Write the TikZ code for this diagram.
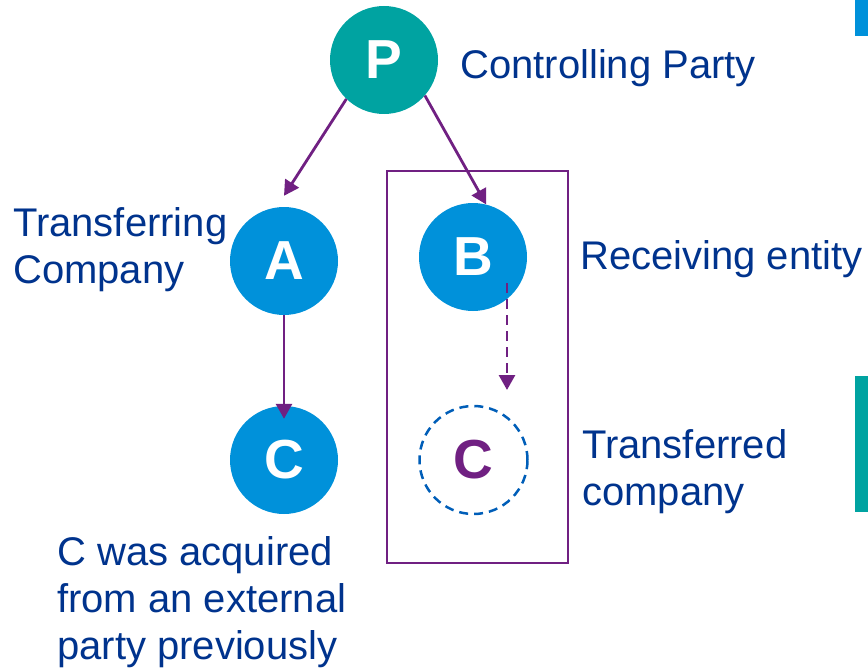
\documentclass[tikz,border=0pt]{standalone}
\usepackage{fontspec}
\setmainfont{Liberation Sans}
\usetikzlibrary{arrows.meta}
\definecolor{kteal}{HTML}{00A3A1}
\definecolor{kblue}{HTML}{0091DA}
\definecolor{kpurple}{HTML}{702082}
\definecolor{kdark}{HTML}{00338D}
\definecolor{kmid}{HTML}{005EB8}
\tikzset{
  ent/.style={circle, minimum size=108pt, inner sep=0pt, text=white,
    font=\fontsize{55}{60}\selectfont\bfseries},
  lbl/.style={text=kdark, inner sep=0pt, anchor=base west, align=left,
    font=\fontsize{40}{47}\selectfont},
  link/.style={draw=kpurple, line width=2.8pt, -{Triangle[length=15pt,width=16pt]}},
}
\begin{document}
\begin{tikzpicture}[x=1pt,y=-1pt]
\useasboundingbox (0,0) rectangle (868,669);
% side bars
\fill[kblue] (855,0) rectangle (868,36);
\fill[kteal] (855,376) rectangle (868,512);
% box
\node[draw=kpurple, line width=2.5pt, minimum width=181pt, minimum height=392pt, inner sep=0pt] (box) at (477.5,367) {};
% entities
\node[ent, fill=kteal] (P) at (384,60) {P};
\node[ent, fill=kblue] (A) at (284,261) {A};
\node[ent, fill=kblue] (B) at (473,257) {B};
\node[ent, fill=kblue] (C) at (284,460) {C};
\node[ent, draw=kmid, line width=2.5pt, dash pattern=on 9pt off 6pt, text=kpurple] (C2) at (473.5,460) {C};
% labels
\node[lbl] (lP) at (460,78) {Controlling Party};
\node[lbl] (lA) at (13,283) {Transferring\\Company};
\node[lbl] (lB) at (580,269) {Receiving entity};
\node[lbl] (lC2) at (582,505) {Transferred\\company};
\node[lbl] (lC) at (57,659) {C was acquired\\from an external\\party previously};
% connectors
\coordinate (d1) at (507,283);
\coordinate (d2) at (507,390);
\draw[link] (P.226) -- ([yshift=11pt]A.north);
\draw[link] (P.-41) -- (B.76);
\draw[link] (A.south) -- ([yshift=-13pt]C.north);
\draw[link, dash pattern=on 10pt off 6pt] (d1) -- (d2);
\end{tikzpicture}
\end{document}
